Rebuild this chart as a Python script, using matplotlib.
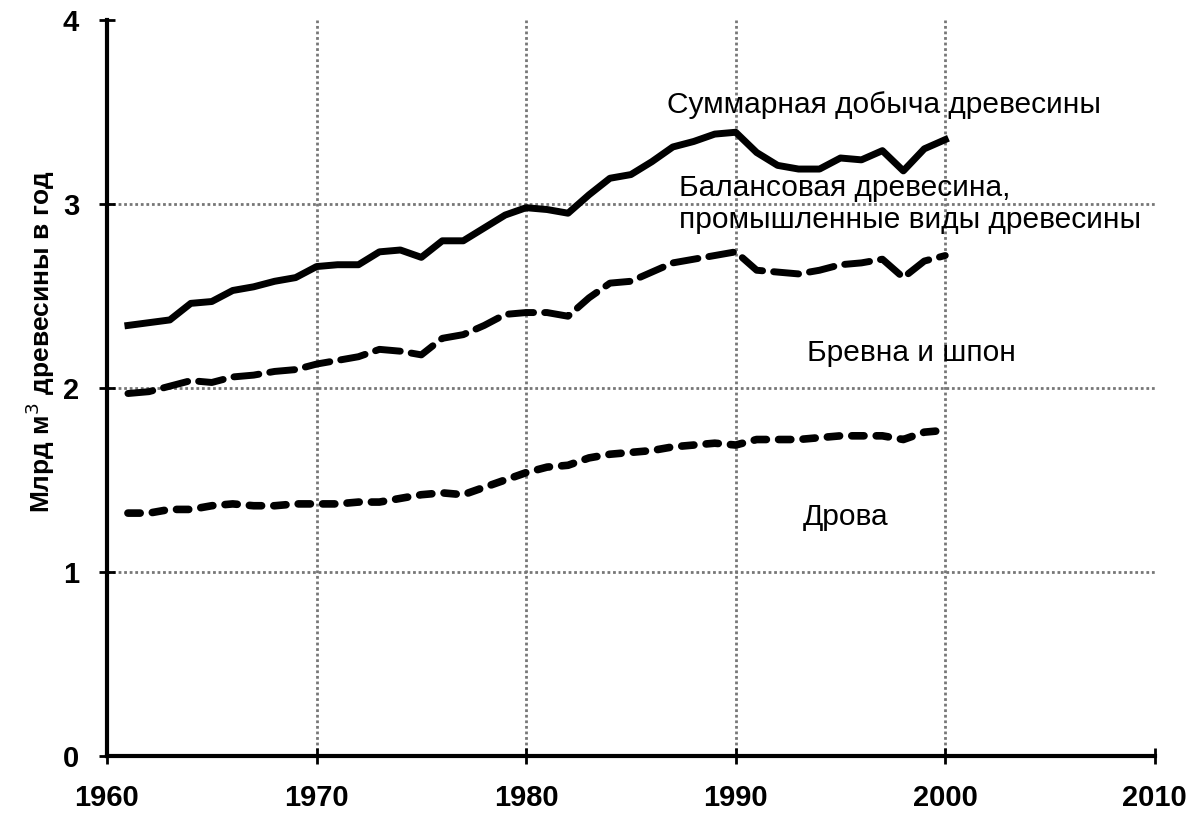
import numpy as np
import matplotlib.pyplot as plt

plt.rcParams['font.family'] = ['Liberation Sans', 'DejaVu Sans']

years = np.arange(1961, 2001)
total = [2.34, 2.355, 2.37, 2.46, 2.47, 2.53, 2.55, 2.58, 2.60, 2.66,
         2.67, 2.67, 2.74, 2.75, 2.71, 2.80, 2.80, 2.87, 2.94, 2.98,
         2.97, 2.95, 3.05, 3.14, 3.16, 3.23, 3.31, 3.34, 3.38, 3.39,
         3.28, 3.21, 3.19, 3.19, 3.25, 3.24, 3.29, 3.18, 3.30, 3.35]
industrial = [1.97, 1.98, 2.01, 2.04, 2.03, 2.06, 2.07, 2.09, 2.10, 2.13,
              2.15, 2.17, 2.21, 2.20, 2.18, 2.27, 2.29, 2.34, 2.40, 2.41,
              2.41, 2.39, 2.49, 2.57, 2.58, 2.63, 2.68, 2.70, 2.72, 2.74,
              2.64, 2.63, 2.62, 2.64, 2.67, 2.68, 2.70, 2.60, 2.69, 2.72]
fuelwood = [1.32, 1.32, 1.34, 1.34, 1.36, 1.37, 1.36, 1.36, 1.37, 1.37,
            1.37, 1.38, 1.38, 1.40, 1.42, 1.43, 1.42, 1.46, 1.50, 1.54,
            1.57, 1.58, 1.62, 1.64, 1.65, 1.66, 1.68, 1.69, 1.70, 1.69,
            1.72, 1.72, 1.72, 1.73, 1.74, 1.74, 1.74, 1.72, 1.76, 1.77]

fig = plt.figure(figsize=(11.94, 8.14), dpi=100)
ax = fig.add_axes([0.0896, 0.0713, 0.8776, 0.9041])

ax.plot(years, total, color='black', lw=5, solid_joinstyle='round')
ax.plot(years, industrial, color='black', lw=5, linestyle=(0, (3.6, 1.6)),
        dash_capstyle='round')
ax.plot(years, fuelwood, color='black', lw=5.5, linestyle=(0, (1.6, 1.6)),
        dash_capstyle='round')

ax.set_xlim(1960, 2010)
ax.set_ylim(0, 4)
ax.set_xticks(range(1960, 2011, 10))
ax.set_yticks(range(0, 5))
ax.grid(True, color='#777777', lw=2, linestyle=(0, (1, 1)))
ax.xaxis.get_gridlines()[-1].set_visible(False)
ax.yaxis.get_gridlines()[-1].set_visible(False)
for s in ['top', 'right']:
    ax.spines[s].set_visible(False)
for s in ['left', 'bottom']:
    ax.spines[s].set_linewidth(3)
ax.tick_params(direction='inout', length=12, width=2, labelsize=21, pad=14)
for lab in ax.get_xticklabels() + ax.get_yticklabels():
    lab.set_fontweight('bold')
ax.set_ylabel('Млрд м$^3$ древесины в год', fontsize=19, fontweight='bold')
ax.yaxis.set_label_coords(-0.048, 0.5625)

ax.text(1986.7, 3.54, 'Суммарная добыча древесины', fontsize=21.5, va='center')
ax.text(1987.3, 3.0, 'Балансовая древесина,\nпромышленные виды древесины',
        fontsize=21.5, va='center', linespacing=1.15)
ax.text(1993.4, 2.19, 'Бревна и шпон', fontsize=21.5, va='center')
ax.text(1993.2, 1.30, 'Дрова', fontsize=21.5, va='center')

fig.savefig('out.png', dpi=100)
